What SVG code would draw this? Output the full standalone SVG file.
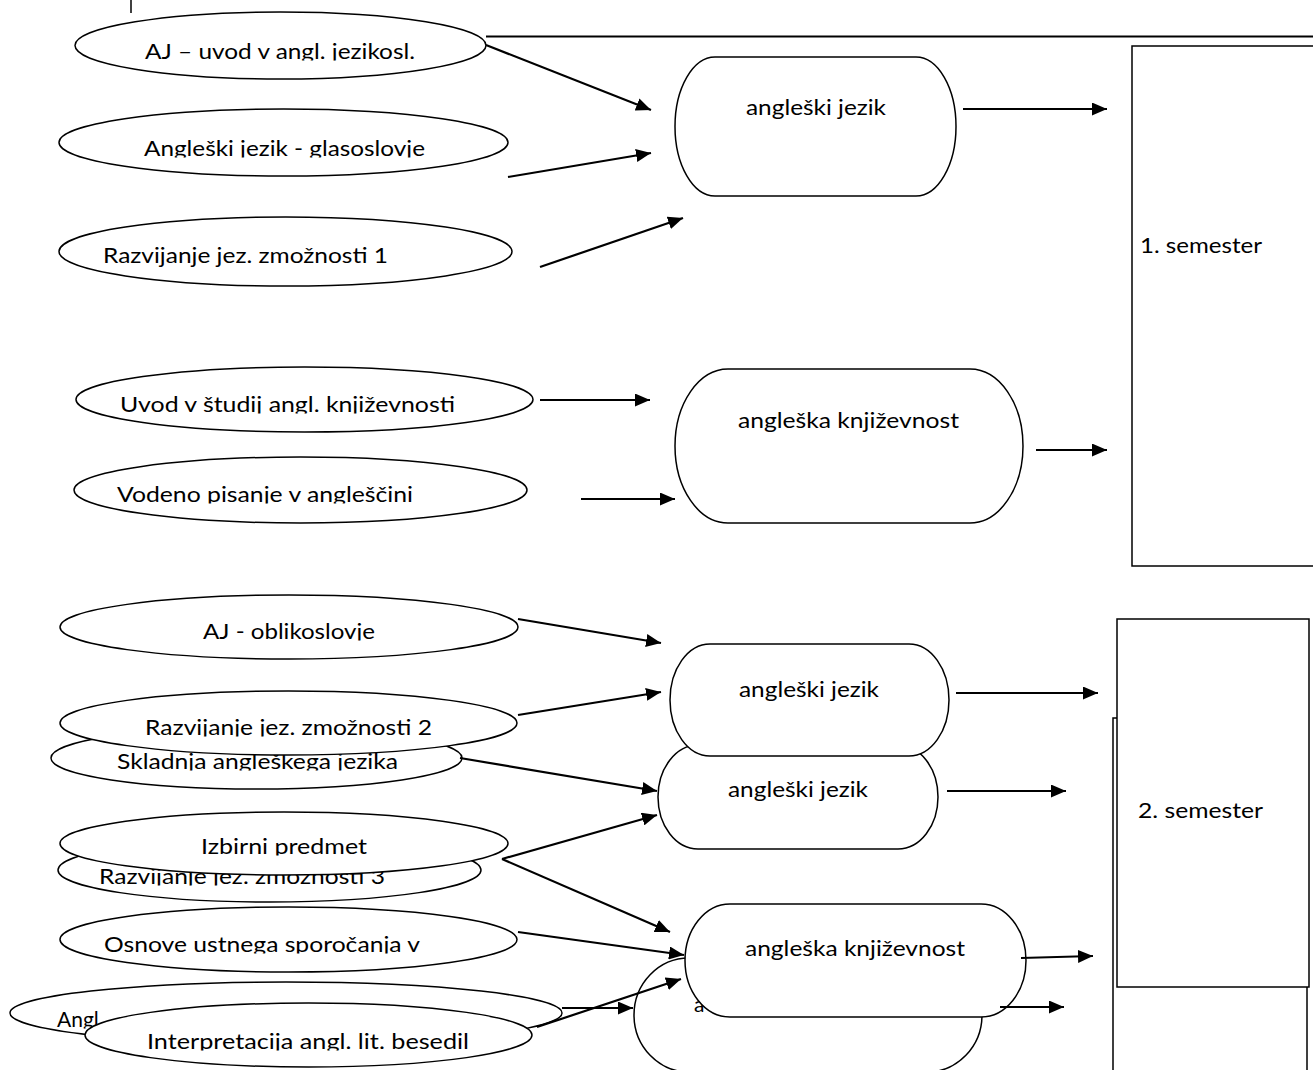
<svg xmlns="http://www.w3.org/2000/svg" width="1313" height="1070" viewBox="0 0 1313 1070">
<style>
.sh{fill:#fff;stroke:#000;stroke-width:1.5}
.t{font-family:Lato,"Open Sans","Liberation Sans",sans-serif;font-size:21px;fill:#000}
.c line{stroke:#000;stroke-width:2.2;marker-end:url(#ah)}
.fr{stroke:#000;fill:none}
</style>
<defs>
<marker id="ah" markerUnits="userSpaceOnUse" markerWidth="15" markerHeight="13" refX="15" refY="6.5" orient="auto">
<path d="M0,0 L15,6.5 L0,13 z" fill="#000"/>
</marker>
<clipPath id="kA1"><rect x="0" y="0" width="1313" height="60.5"/></clipPath>
<clipPath id="kA2"><rect x="0" y="100" width="1313" height="57.5"/></clipPath>
<clipPath id="kB1"><rect x="0" y="360" width="1313" height="53.5"/></clipPath>
<clipPath id="kB2"><rect x="0" y="450" width="1313" height="53.5"/></clipPath>
<clipPath id="kC1"><rect x="0" y="590" width="1313" height="50.5"/></clipPath>
<clipPath id="kC2"><rect x="0" y="690" width="1313" height="46.5"/></clipPath>
<clipPath id="kC3"><rect x="0" y="720" width="1313" height="50.5"/></clipPath>
<clipPath id="kD1"><rect x="0" y="810" width="1313" height="45.5"/></clipPath>
<clipPath id="kD2"><rect x="0" y="840" width="1313" height="45.5"/></clipPath>
<clipPath id="kD3"><rect x="0" y="900" width="1313" height="53.5"/></clipPath>
<clipPath id="kD4"><rect x="0" y="980" width="1313" height="48.5"/></clipPath>
<clipPath id="kD5"><rect x="0" y="1000" width="1313" height="50.5"/></clipPath>
</defs>
<rect width="1313" height="1070" fill="#fff"/>
<g id="frame">
<line class="fr" x1="131" y1="0" x2="131" y2="13" stroke-width="1.5"/>
<line class="fr" x1="486" y1="36.5" x2="1313" y2="36.5" stroke-width="2"/>
</g>
<g id="sem1"><rect class="sh" x="1132" y="46" width="190" height="520"/><text class="t" x="1140" y="253" textLength="122" lengthAdjust="spacingAndGlyphs">1. semester</text></g>
<g id="sem2b"><rect class="sh" x="1113" y="718" width="194" height="365"/></g>
<g id="sem2"><rect class="sh" x="1117" y="619" width="192" height="368"/><text class="t" x="1138" y="818" textLength="125" lengthAdjust="spacingAndGlyphs">2. semester</text></g>
<g id="a1"><ellipse class="sh" cx="280.5" cy="45.5" rx="205.5" ry="33.5"/><text class="t" x="145" y="59" textLength="270" lengthAdjust="spacingAndGlyphs" clip-path="url(#kA1)">AJ – uvod v angl. jezikosl.</text></g>
<g id="a2"><ellipse class="sh" cx="283.5" cy="142.5" rx="224.5" ry="33.5"/><text class="t" x="144" y="156" textLength="281" lengthAdjust="spacingAndGlyphs" clip-path="url(#kA2)">Angleški jezik - glasoslovje</text></g>
<g id="a3"><ellipse class="sh" cx="285.5" cy="251.5" rx="226.5" ry="34.5"/><text class="t" x="103" y="263" textLength="285" lengthAdjust="spacingAndGlyphs">Razvijanje jez. zmožnosti 1</text></g>
<g id="b1"><ellipse class="sh" cx="304.5" cy="399.5" rx="228.5" ry="32.5"/><text class="t" x="120" y="412" textLength="335" lengthAdjust="spacingAndGlyphs" clip-path="url(#kB1)">Uvod v študij angl. književnosti</text></g>
<g id="b2"><ellipse class="sh" cx="300.5" cy="490" rx="226.5" ry="33"/><text class="t" x="117" y="502" textLength="296" lengthAdjust="spacingAndGlyphs" clip-path="url(#kB2)">Vodeno pisanje v angleščini</text></g>
<g id="n1"><rect class="sh" x="675" y="57" width="281" height="139" rx="40" ry="69.5"/><text class="t" x="746" y="115" textLength="140" lengthAdjust="spacingAndGlyphs">angleški jezik</text></g>
<g id="l1"><rect class="sh" x="675" y="369" width="348" height="154" rx="53" ry="77"/><text class="t" x="738" y="428" textLength="221" lengthAdjust="spacingAndGlyphs">angleška književnost</text></g>
<g id="c1"><ellipse class="sh" cx="289" cy="627" rx="229" ry="32"/><text class="t" x="203" y="639" textLength="172" lengthAdjust="spacingAndGlyphs" clip-path="url(#kC1)">AJ - oblikoslovje</text></g>
<g id="c3"><ellipse class="sh" cx="256.5" cy="758" rx="205.5" ry="31"/><text class="t" x="117" y="769" textLength="281" lengthAdjust="spacingAndGlyphs" clip-path="url(#kC3)">Skladnja angleškega jezika</text></g>
<g id="c2"><ellipse class="sh" cx="288.5" cy="723" rx="228.5" ry="32"/><text class="t" x="145" y="735" textLength="287" lengthAdjust="spacingAndGlyphs" clip-path="url(#kC2)">Razvijanje jez. zmožnosti 2</text></g>
<g id="d2"><ellipse class="sh" cx="269.5" cy="870" rx="211.5" ry="32"/><text class="t" x="99" y="884" textLength="286" lengthAdjust="spacingAndGlyphs" clip-path="url(#kD2)">Razvijanje jez. zmožnosti 3</text></g>
<g id="d1"><ellipse class="sh" cx="284" cy="843.5" rx="224" ry="31.5"/><text class="t" x="201" y="854" textLength="166" lengthAdjust="spacingAndGlyphs" clip-path="url(#kD1)">Izbirni predmet</text></g>
<g id="d3"><ellipse class="sh" cx="288.5" cy="939.5" rx="228.5" ry="32.5"/><text class="t" x="104" y="952" textLength="316" lengthAdjust="spacingAndGlyphs" clip-path="url(#kD3)">Osnove ustnega sporočanja v</text></g>
<g id="d4"><ellipse class="sh" cx="286" cy="1013" rx="276" ry="31"/><text class="t" x="57" y="1027" clip-path="url(#kD4)">Angl</text></g>
<g id="d5"><ellipse class="sh" cx="308.5" cy="1035" rx="223.5" ry="32"/><text class="t" x="147" y="1049" textLength="322" lengthAdjust="spacingAndGlyphs" clip-path="url(#kD5)">Interpretacija angl. lit. besedil</text></g>
<g id="j2b"><rect class="sh" x="658" y="745" width="280" height="104" rx="40" ry="52"/><text class="t" x="728" y="797" textLength="140" lengthAdjust="spacingAndGlyphs">angleški jezik</text></g>
<g id="j2a"><rect class="sh" x="670" y="644" width="279" height="112" rx="40" ry="56"/><text class="t" x="739" y="697" textLength="140" lengthAdjust="spacingAndGlyphs">angleški jezik</text></g>
<g id="l2b"><rect class="sh" x="634" y="958" width="348" height="114" rx="55" ry="57"/><text class="t" x="694" y="1012">a</text></g>
<g id="l2a"><rect class="sh" x="685" y="904" width="341" height="113" rx="45" ry="56.5"/><text class="t" x="745" y="956" textLength="220" lengthAdjust="spacingAndGlyphs">angleška književnost</text></g>
<g id="connectors" class="c">
<line x1="486" y1="45" x2="651" y2="110"/>
<line x1="508" y1="177" x2="651" y2="153"/>
<line x1="540" y1="267" x2="683" y2="218"/>
<line x1="963" y1="109" x2="1107" y2="109"/>
<line x1="540" y1="400" x2="650" y2="400"/>
<line x1="581" y1="499" x2="675" y2="499"/>
<line x1="1036" y1="450" x2="1107" y2="450"/>
<line x1="518" y1="619" x2="661" y2="643"/>
<line x1="518" y1="715" x2="661" y2="692"/>
<line x1="956" y1="693" x2="1098" y2="693"/>
<line x1="460" y1="758" x2="657" y2="791"/>
<line x1="947" y1="791" x2="1066" y2="791"/>
<line x1="502" y1="859" x2="657" y2="815"/>
<line x1="502" y1="859" x2="670" y2="932"/>
<line x1="518" y1="932" x2="684" y2="955"/>
<line x1="1021" y1="958" x2="1093" y2="956"/>
<line x1="562" y1="1008" x2="633" y2="1008"/>
<line x1="537" y1="1027" x2="681" y2="979"/>
<line x1="1000" y1="1007" x2="1064" y2="1007"/>
</g>
</svg>
